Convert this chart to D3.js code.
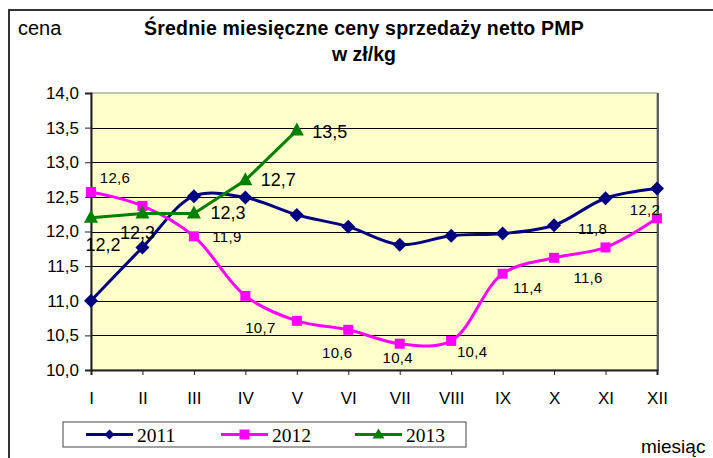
<!DOCTYPE html>
<html>
<head>
<meta charset="utf-8">
<script src="https://cdn.jsdelivr.net/npm/d3@7"></script>
<style>
  body { margin: 0; background: #fff; }
  svg { display: block; }
</style>
</head>
<body>
<div id="chart"></div>
<script>
var months = ["I", "II", "III", "IV", "V", "VI", "VII", "VIII", "IX", "X", "XI", "XII"];
var yTicks = [10, 10.5, 11, 11.5, 12, 12.5, 13, 13.5, 14];
var years = ["2011", "2012", "2013"];

var prices2011 = [11.0, 11.77, 12.51, 12.49, 12.24, 12.07, 11.81, 11.94, 11.97, 12.09, 12.48, 12.62];
var prices2012 = [12.57, 12.37, 11.93, 11.07, 10.71, 10.58, 10.38, 10.42, 11.39, 11.62, 11.77, 12.19];
var prices2013 = [12.2, 12.26, 12.26, 12.74, 13.46];

// labels shown in the original (null = no label)
var labels2012 = ["12,6", null, "11,9", "10,7", null, "10,6", "10,4", "10,4", "11,4", "11,6", "11,8", "12,2"];
var labels2013 = ["12,2", "12,3", "12,3", "12,7", "13,5"];

function init() {
    var w = 713, h = 458;
    var font = "Arial, 'Liberation Sans', sans-serif";

    var svg = d3.select("#chart").append("svg")
        .attr("width", w).attr("height", h);

    // outer chart frame
    svg.append("path")
        .attr("d", "M9," + h + "V10H713")
        .attr("fill", "none")
        .attr("stroke", "#333")
        .attr("stroke-width", 2);

    var x = d3.scalePoint().domain(months).range([91, 657]);
    var y = d3.scaleLinear().domain([10, 14]).range([370, 93]);

    // plot area
    svg.append("rect")
        .attr("x", 91).attr("y", 93)
        .attr("width", 566).attr("height", 277)
        .attr("fill", "#ffffcc")
        .attr("stroke", "#888").attr("stroke-width", 1);
    svg.append("line")
        .attr("x1", 658).attr("x2", 658).attr("y1", 93).attr("y2", 371)
        .attr("stroke", "#333").attr("stroke-width", 1.5);

    // gridlines
    svg.selectAll(".grid").data(yTicks.slice(1, -1)).enter().append("line")
        .attr("x1", 91).attr("x2", 657)
        .attr("y1", function(d) { return Math.round(y(d)) + 0.5; })
        .attr("y2", function(d) { return Math.round(y(d)) + 0.5; })
        .attr("stroke", "#000").attr("stroke-width", 1);

    // y axis
    var yAxis = d3.axisLeft(y).tickValues(yTicks).tickSize(6).tickPadding(6)
        .tickFormat(function(d) { return d3.format(".1f")(d).replace(".", ","); });
    var gy = svg.append("g").attr("transform", "translate(91,0)").call(yAxis);
    gy.select(".domain").attr("stroke", "#222").attr("stroke-width", 2);
    gy.selectAll("line").attr("stroke", "#222");
    gy.selectAll("text").attr("font-family", font)
        .attr("font-size", 17).attr("fill", "#000");

    // x axis
    var xAxis = d3.axisBottom(x).tickSize(5).tickPadding(17);
    var gx = svg.append("g").attr("transform", "translate(0,370)").call(xAxis);
    gx.select(".domain").attr("stroke", "#222").attr("stroke-width", 2);
    gx.selectAll("line").attr("stroke", "#222");
    gx.selectAll("text").attr("font-family", font)
        .attr("font-size", 17).attr("fill", "#000");

    var smooth = d3.line()
        .x(function(d, i) { return x(months[i]); })
        .y(function(d) { return y(d); })
        .curve(d3.curveCatmullRom.alpha(0.5));
    var straight = d3.line()
        .x(function(d, i) { return x(months[i]); })
        .y(function(d) { return y(d); });

    // 2011
    svg.append("path").attr("d", smooth(prices2011))
        .attr("fill", "none").attr("stroke", "#000080").attr("stroke-width", 3);
    svg.selectAll(".m2011").data(prices2011).enter().append("path")
        .attr("transform", function(d, i) { return "translate(" + x(months[i]) + "," + y(d) + ")"; })
        .attr("d", "M0,-7L7,0L0,7L-7,0Z")
        .attr("fill", "#000080");

    // 2012
    svg.append("path").attr("d", smooth(prices2012))
        .attr("fill", "none").attr("stroke", "#ff00ff").attr("stroke-width", 3);
    svg.selectAll(".m2012").data(prices2012).enter().append("rect")
        .attr("x", function(d, i) { return x(months[i]) - 5; })
        .attr("y", function(d) { return y(d) - 5; })
        .attr("width", 10).attr("height", 10)
        .attr("fill", "#ff00ff");

    // 2013
    svg.append("path").attr("d", straight(prices2013))
        .attr("fill", "none").attr("stroke", "#008000").attr("stroke-width", 3);
    svg.selectAll(".m2013").data(prices2013).enter().append("path")
        .attr("transform", function(d, i) { return "translate(" + x(months[i]) + "," + y(d) + ")"; })
        .attr("d", "M0,-8L7,5L-7,5Z")
        .attr("fill", "#008000");

    // data labels 2012 (dx, dy to baseline)
    var off2012 = [[24, -9.5], null, [33, 5.5], [15, 37.5], null, [-11, 28.5],
                   [-2, 19.5], [21, 16.5], [25, 19.5], [34, 25.5], [-13, -13.5], [-12, -3.5]];
    prices2012.forEach(function(d, i) {
        if (labels2012[i] === null) return;
        svg.append("text")
            .attr("x", x(months[i]) + off2012[i][0])
            .attr("y", y(d) + off2012[i][1])
            .attr("text-anchor", "middle")
            .attr("font-family", font)
            .attr("font-size", 15).attr("letter-spacing", 0.3)
            .text(labels2012[i]);
    });

    var off2013 = [[12, 33.5], [-5, 25.5], [34, 5.5], [33, 5.5], [33, 7.5]];
    svg.selectAll(".l2013").data(prices2013).enter().append("text")
        .attr("x", function(d, i) { return x(months[i]) + off2013[i][0]; })
        .attr("y", function(d, i) { return y(d) + off2013[i][1]; })
        .attr("text-anchor", "middle")
        .attr("font-family", font)
        .attr("font-size", 18)
        .text(function(d, i) { return labels2013[i]; });

    // titles
    svg.append("text").attr("x", 364).attr("y", 35).attr("text-anchor", "middle")
        .attr("font-family", font).attr("font-size", 19.5).attr("font-weight", "bold")
        .attr("letter-spacing", 0.2)
        .text("Średnie miesięczne ceny sprzedaży netto PMP");
    svg.append("text").attr("x", 364).attr("y", 61).attr("text-anchor", "middle")
        .attr("font-family", font).attr("font-size", 19.5).attr("font-weight", "bold")
        .text("w zł/kg");
    svg.append("text").attr("x", 641).attr("y", 453)
        .attr("font-family", font).attr("font-size", 19).text("miesiąc");
    svg.append("text").attr("x", 18).attr("y", 35)
        .attr("font-family", font).attr("font-size", 20).text("cena");

    // legend
    var lg = svg.append("g");
    lg.append("rect").attr("x", 63).attr("y", 422).attr("width", 403).attr("height", 25)
        .attr("fill", "#fff").attr("stroke", "#444").attr("stroke-width", 1);
    var legColors = ["#000080", "#ff00ff", "#008000"];
    var legShapes = ["M0,-5L5,0L0,5L-5,0Z", "M-5,-5H5V5H-5Z", "M0,-6L6,4L-6,4Z"];
    var legX = [86, 221, 355];
    years.forEach(function(yr, i) {
        var lx = legX[i];
        lg.append("line").attr("x1", lx).attr("x2", lx + 47).attr("y1", 434.5).attr("y2", 434.5)
            .attr("stroke", legColors[i]).attr("stroke-width", 3);
        lg.append("path").attr("transform", "translate(" + (lx + 23.5) + ",434.5)")
            .attr("d", legShapes[i]).attr("fill", legColors[i]);
        lg.append("text").attr("x", lx + 51).attr("y", 441.5)
            .attr("font-family", "'Liberation Serif', 'Times New Roman', serif")
            .attr("font-size", 19.5).text(yr);
    });
}

window.onload = init;
</script>
</body>
</html>
